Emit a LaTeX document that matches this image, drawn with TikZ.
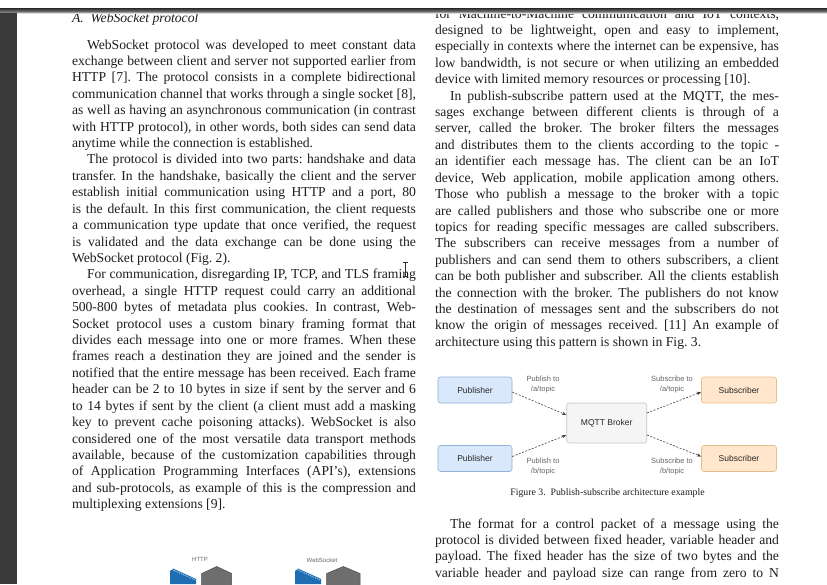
\documentclass[tikz,border=0pt]{standalone}
\usepackage{fontspec}
\setmainfont{Liberation Serif}
\newfontfamily\figsans{Liberation Sans}
\usetikzlibrary{arrows.meta}
\definecolor{txt}{HTML}{1E1E1E}
\definecolor{pubfill}{HTML}{DAE8FC}
\definecolor{pubdraw}{HTML}{93AFD6}
\definecolor{subfill}{HTML}{FFE6CC}
\definecolor{subdraw}{HTML}{E3BE8C}
\definecolor{brkfill}{HTML}{F5F5F5}
\definecolor{brkdraw}{HTML}{C4C4C4}
\definecolor{barcol}{HTML}{3A3A3A}
\definecolor{wsblue}{HTML}{1F6DB2}
\definecolor{wsgray}{HTML}{6E6E6E}
\newlength\colw \setlength\colw{344pt}
\newlength\pind \setlength\pind{15pt}
\newcommand\Jl[1]{\hbox to \colw{#1}}
\newcommand\Il[1]{\hbox to \colw{\kern\pind #1}}
\newcommand\El[1]{\hbox{#1}}
\newcommand\bodyfont{\fontsize{13.65}{16.42}\selectfont\frenchspacing}
\tikzset{
  body/.style={inner sep=0pt, outer sep=0pt, text=txt, anchor=base west},
  boxbase/.style={minimum width=74pt, minimum height=26pt, rounded corners=2.5pt, line width=0.6pt,
    font=\figsans\fontsize{8.5}{10}\selectfont, text=black!85, inner sep=1pt},
  pubbox/.style={boxbase, draw=pubdraw, fill=pubfill},
  subbox/.style={boxbase, draw=subdraw, fill=subfill, minimum width=75pt},
  brkbox/.style={boxbase, draw=brkdraw, fill=brkfill, minimum width=80pt, minimum height=40pt},
  lbl/.style={font=\figsans\fontsize{7.5}{10}\selectfont, text=black!60, align=center, inner sep=0pt},
  dasharrow/.style={draw=black!75, line width=0.6pt, dash pattern=on 2pt off 1.5pt,
    -{Stealth[length=4.5pt,width=3.5pt]}},
}
\begin{document}
\begin{tikzpicture}[x=1pt,y=-1pt]
\fill[white] (0,0) rectangle (827,584);
\useasboundingbox (0,0) rectangle (827,584);

% heading
\node[body] (head) at (72,22) {\bodyfont\itshape A.\ \ WebSocket protocol};

% left column
\node[body] (leftcol) at (72,49) {\parbox[t]{\colw}{\bodyfont
\Il{WebSocket protocol was developed to meet constant data}
\Jl{exchange between client and server not supported earlier from}
\Jl{HTTP [7]. The protocol consists in a complete bidirectional}
\Jl{communication channel that works through a single socket [8],}
\Jl{as well as having an asynchronous communication (in contrast}
\Jl{with HTTP protocol), in other words, both sides can send data}
\El{anytime while the connection is established.}
\Il{The protocol is divided into two parts: handshake and data}
\Jl{transfer. In the handshake, basically the client and the server}
\Jl{establish initial communication using HTTP and a port, 80}
\Jl{is the default. In this first communication, the client requests}
\Jl{a communication type update that once verified, the request}
\Jl{is validated and the data exchange can be done using the}
\El{WebSocket protocol (Fig. 2).}
\Il{For communication, disregarding IP, TCP, and TLS framing}
\Jl{overhead, a single HTTP request could carry an additional}
\Jl{500-800 bytes of metadata plus cookies. In contrast, Web-}
\Jl{Socket protocol uses a custom binary framing format that}
\Jl{divides each message into one or more frames. When these}
\Jl{frames reach a destination they are joined and the sender is}
\Jl{notified that the entire message has been received. Each frame}
\Jl{header can be 2 to 10 bytes in size if sent by the server and 6}
\Jl{to 14 bytes if sent by the client (a client must add a masking}
\Jl{key to prevent cache poisoning attacks). WebSocket is also}
\Jl{considered one of the most versatile data transport methods}
\Jl{available, because of the customization capabilities through}
\Jl{of Application Programming Interfaces (API's), extensions}
\Jl{and sub-protocols, as example of this is the compression and}
\El{multiplexing extensions [9].}
}};

% right column
\node[body] (rightcol) at (435,18) {\parbox[t]{\colw}{\bodyfont
\Jl{for Machine-to-Machine communication and IoT contexts,}
\Jl{designed to be lightweight, open and easy to implement,}
\Jl{especially in contexts where the internet can be expensive, has}
\Jl{low bandwidth, is not secure or when utilizing an embedded}
\El{device with limited memory resources or processing [10].}
\Il{In publish-subscribe pattern used at the MQTT, the mes-}
\Jl{sages exchange between different clients is through of a}
\Jl{server, called the broker. The broker filters the messages}
\Jl{and distributes them to the clients according to the topic -}
\Jl{an identifier each message has. The client can be an IoT}
\Jl{device, Web application, mobile application among others.}
\Jl{Those who publish a message to the broker with a topic}
\Jl{are called publishers and those who subscribe one or more}
\Jl{topics for reading specific messages are called subscribers.}
\Jl{The subscribers can receive messages from a number of}
\Jl{publishers and can send them to others subscribers, a client}
\Jl{can be both publisher and subscriber. All the clients establish}
\Jl{the connection with the broker. The publishers do not know}
\Jl{the destination of messages sent and the subscribers do not}
\Jl{know the origin of messages received. [11] An example of}
\El{architecture using this pattern is shown in Fig. 3.}
}};

\node[body] (rightcol2) at (435,528) {\parbox[t]{\colw}{\bodyfont
\Il{The format for a control packet of a message using the}
\Jl{protocol is divided between fixed header, variable header and}
\Jl{payload. The fixed header has the size of two bytes and the}
\Jl{variable header and payload size can range from zero to N}
}};

% Figure 3
\node[pubbox] (p1) at (475,390) {Publisher};
\node[pubbox] (p2) at (475,458.5) {Publisher};
\node[brkbox] (brk) at (606.7,423) {MQTT Broker};
\node[subbox] (s1) at (739,390) {Subscriber};
\node[subbox] (s2) at (739,458.5) {Subscriber};
\draw[dasharrow] ([yshift=-2pt]p1.east) -- ([yshift=8pt]brk.west);
\draw[dasharrow] ([yshift=2pt]p2.east) -- ([yshift=-12pt]brk.west);
\draw[dasharrow] ([yshift=10pt]brk.east) -- ([yshift=-2pt]s1.west);
\draw[dasharrow] ([yshift=-12pt]brk.east) -- ([yshift=2pt]s2.west);
\node[lbl] (la) at (543,385) {Publish to\\/a/topic};
\node[lbl] (lb) at (543,467) {Publish to\\/b/topic};
\node[lbl] (lc) at (672,385) {Subscribe to\\/a/topic};
\node[lbl] (ld) at (672,467) {Subscribe to\\/b/topic};
\node[inner sep=0pt, anchor=base, text=txt] (cap) at (607.5,495)
  {\fontsize{9.8}{11}\selectfont Figure 3.\ \ Publish-subscribe architecture example};

% Figure 2 (partly visible)
\node[lbl, font=\figsans\fontsize{6}{7}\selectfont] (fhttp) at (200,559) {HTTP};
\node[lbl, font=\figsans\fontsize{6}{7}\selectfont] (fws) at (322,560) {WebSocket};
\fill[wsblue] (170,571) -- (173,568.5) -- (196,579) -- (196,584) -- (170,584) -- cycle;
\draw[white!70!wsblue, line width=0.8pt, dash pattern=on 1pt off 1pt] (172,569.5) -- (195,580);
\filldraw[fill=wsgray, draw=black!70, line width=0.5pt] (216.7,566.5) -- (231.7,573.5) -- (231.7,586) -- (201.7,586) -- (201.7,573.5) -- cycle;
\fill[wsblue] (295,571) -- (298,568.5) -- (321,579) -- (321,584) -- (295,584) -- cycle;
\draw[white!70!wsblue, line width=0.8pt, dash pattern=on 1pt off 1pt] (297,569.5) -- (320,580);
\filldraw[fill=wsgray, draw=black!70, line width=0.5pt] (343.3,566.5) -- (360,573.5) -- (360,586) -- (326.7,586) -- (326.7,573.5) -- cycle;

% text cursor
\draw[black!80, line width=0.8pt] (405,263) -- (405,276);
\draw[black!80, line width=0.7pt] (402.5,262.5) -- (407.5,262.5) (402.5,276.5) -- (407.5,276.5);

% window frame
\fill[barcol] (0,8) rectangle (17,584);
\shade[top color=black!85, bottom color=black!50] (0,8) rectangle (827,12);
\shade[top color=black!40, bottom color=white] (17,12) rectangle (827,13.5);
\end{tikzpicture}
\end{document}
